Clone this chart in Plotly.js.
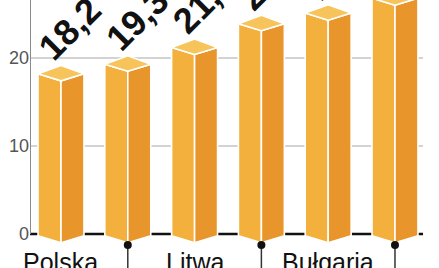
<!DOCTYPE html>
<html>
<head>
<meta charset="utf-8">
<script src="https://cdn.plot.ly/plotly-3.0.1.min.js"></script>
<style>html,body{margin:0;padding:0;background:#fff;}#chart{width:439px;height:268px;}</style>
</head>
<body>
<div id="chart"></div>
<script>
const categories = ["Polska", "", "Litwa", "", "Bułgaria", ""];
const values = [18.2, 19.3, 21.2, 23.9, 25.1, 26.8];
const valueLabels = values.map(v => v.toFixed(1).replace('.', ','));
const yTicks = [0, 10, 20];
const labelledIdx = [0, 2, 4];
const leaderIdx = [1, 3, 5];

const HW = 0.344;     // half width of a bar (front + side), x units
const TOPDN = 0.8;    // front corner of the top below left corner
const TOPUP = 0.95;   // back corner of the top above left corner
const BASE = -0.2, BASEV = -1.0;

const fx = [], fy = [], sx = [], sy = [], tx = [], ty = [];
values.forEach((v, i) => {
  fx.push(i - HW, i, i, i - HW, i - HW, null);
  fy.push(v, v - TOPDN, BASEV, BASE, v, null);
  sx.push(i, i + HW, i + HW, i, i, null);
  sy.push(v - TOPDN, v, BASE, BASEV, v - TOPDN, null);
  tx.push(i - HW, i, i + HW, i, i - HW, null);
  ty.push(v, v + TOPUP, v, v - TOPDN, v, null);
});
const edge = {color: '#ffffff', width: 1.6};
const traces = [
  {x: fx, y: fy, mode: 'lines', fill: 'toself', fillcolor: '#F3B03D', line: edge, hoverinfo: 'skip'},
  {x: sx, y: sy, mode: 'lines', fill: 'toself', fillcolor: '#E8952B', line: edge, hoverinfo: 'skip'},
  {x: tx, y: ty, mode: 'lines', fill: 'toself', fillcolor: '#F6C45A', line: edge, hoverinfo: 'skip'}
];
// leader lines + dots for the categories whose labels sit lower
const lx = [], ly = [];
leaderIdx.forEach(i => { lx.push(i, i, null); ly.push(-1.25, -4, null); });
traces.push({x: lx, y: ly, mode: 'lines', line: {color: '#333', width: 1.5}, hoverinfo: 'skip'});
traces.push({x: leaderIdx, y: leaderIdx.map(() => -1.25), mode: 'markers',
  marker: {color: '#111', size: 8}, hoverinfo: 'skip'});

const XL = -0.464, XR = 5.659, XEND = 5.42;
const shapes = [];
yTicks.filter(t => t > 0).forEach(t => shapes.push({type: 'line', xref: 'x', yref: 'y', x0: XL, x1: XEND, y0: t, y1: t,
  line: {color: '#a8a8a8', width: 1.2}, layer: 'below'}));
shapes.push({type: 'line', xref: 'x', yref: 'y', x0: XL, x1: XEND, y0: 0, y1: 0, line: {color: '#111', width: 2.5}, layer: 'below'});
shapes.push({type: 'line', xref: 'x', yref: 'y', x0: XL, x1: XL, y0: 0, y1: 30, line: {color: '#8a8a8a', width: 2}, layer: 'below'});

const annotations = [];
values.forEach((v, i) => annotations.push({x: i, y: v, xref: 'x', yref: 'y', text: valueLabels[i], showarrow: false,
  xanchor: 'center', yanchor: 'middle', xshift: 9, yshift: 45, textangle: -45,
  font: {family: 'Liberation Sans, Arial, sans-serif', size: 36, color: '#111', weight: 'bold'}}));
labelledIdx.forEach(i => annotations.push({x: i, y: 0, xref: 'x', yref: 'y', text: categories[i], showarrow: false,
  xanchor: 'center', yanchor: 'top', yshift: -12,
  font: {family: 'Liberation Sans, Arial, sans-serif', size: 25, color: '#111'}}));

const layout = {
  width: 439, height: 268,
  margin: {l: 30, r: 0, t: 0, b: 0},
  paper_bgcolor: '#fff', plot_bgcolor: '#fff',
  showlegend: false,
  xaxis: {range: [XL, XR], visible: false, fixedrange: true},
  yaxis: {range: [-3.864, 26.59], tickvals: yTicks, ticktext: yTicks.map(String), showgrid: false, zeroline: false,
    showline: false, ticks: '', tickfont: {family: 'Liberation Sans, Arial, sans-serif', size: 18, color: '#555'}, fixedrange: true},
  shapes: shapes,
  annotations: annotations
};
Plotly.newPlot('chart', traces, layout, {staticPlot: true, displayModeBar: false});
</script>
</body>
</html>
